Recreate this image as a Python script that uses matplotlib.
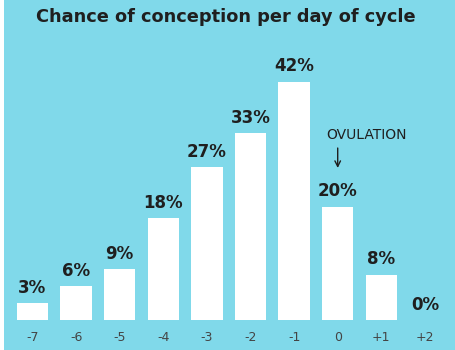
import matplotlib.pyplot as plt
from matplotlib.patches import Rectangle

days = ["-7", "-6", "-5", "-4", "-3", "-2", "-1", "0", "+1", "+2"]
chance = [3, 6, 9, 18, 27, 33, 42, 20, 8, 0]

BG = "#80d9ea"
DARK = "#1f1f1f"

fig = plt.figure(figsize=(4.55, 3.5), dpi=100, facecolor=BG)
# thin white strip on the left edge of the original image
fig.patches.append(Rectangle((0, 0), 3.5 / 455, 1, transform=fig.transFigure,
                             facecolor="white", edgecolor="none", zorder=0))

ax = fig.add_axes([0, 30 / 350, 1, 320 / 350])
ax.set_facecolor("none")
x = list(range(len(days)))
ax.bar(x, chance, width=0.72, color="white", edgecolor="none")

for xi, val in zip(x, chance):
    ax.text(xi, val + 1.1, f"{val}%", ha="center", va="bottom",
            fontsize=12, fontweight="bold", color=DARK, family="DejaVu Sans")

ax.set_xlim(-0.745, 9.69)
ax.set_ylim(0, 56.4)
ax.set_xticks(x)
ax.set_xticklabels(days, fontsize=9, color="#444444")
ax.tick_params(axis="x", length=0, pad=8)
ax.set_yticks([])
for s in ax.spines.values():
    s.set_visible(False)

# ovulation note
ax.text(7.65, 32.6, "OVULATION", ha="center", va="center", fontsize=10,
        color=DARK, family="Liberation Sans Narrow")
ax.annotate("", xy=(7.0, 26.3), xytext=(7.0, 30.8),
            arrowprops=dict(arrowstyle="->", color=DARK, lw=1.0))

fig.text(0.497, 1 - 17 / 350, "Chance of conception per day of cycle",
         ha="center", va="center", fontsize=12.8, fontweight="bold",
         color=DARK, family="DejaVu Sans")

fig.savefig("out.png", dpi=100, facecolor=BG)
